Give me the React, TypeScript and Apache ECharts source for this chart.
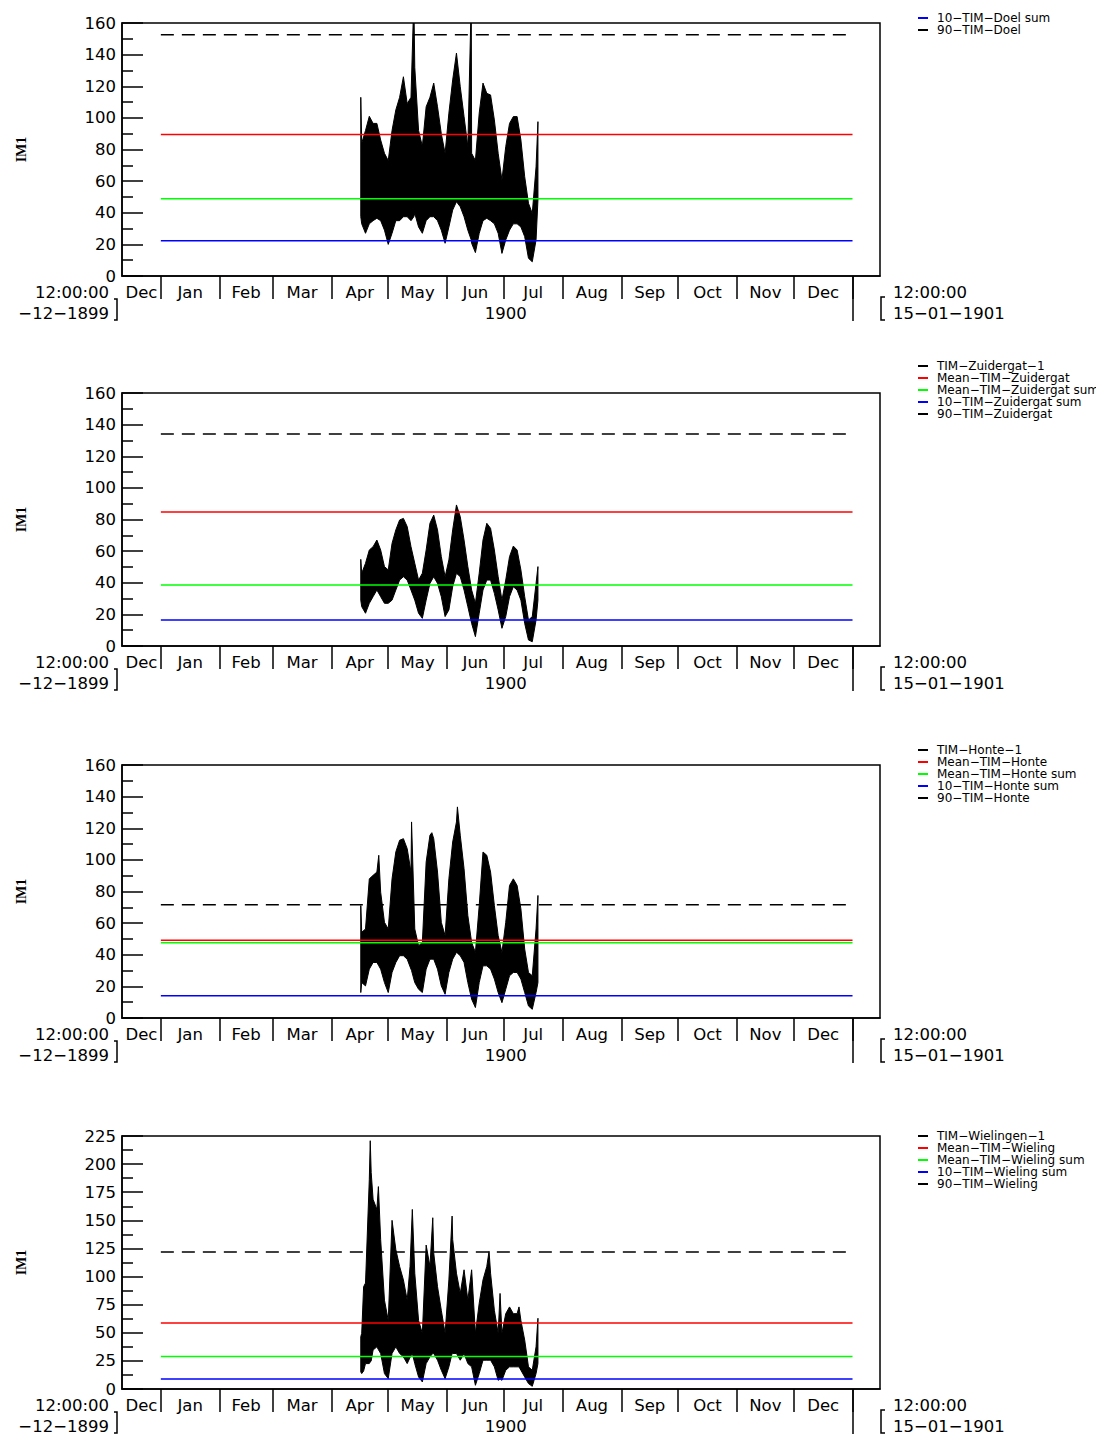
import React, { useEffect, useRef } from "react";
import * as echarts from "echarts";

// ---- x axis: days since 1900-01-01 ----
const X_MIN = -20.5;
const X_MAX = 379.5;
const MONTH_STARTS = [0, 31, 59, 90, 120, 151, 181, 212, 243, 273, 304, 334, 365];
const MONTH_LABEL_POS = [-10.25, 15.5, 45, 74.5, 105, 135.5, 166, 196.5, 227.5, 258, 288.5, 319, 349.5];
const MONTH_NAMES = ["Dec", "Jan", "Feb", "Mar", "Apr", "May", "Jun", "Jul", "Aug", "Sep", "Oct", "Nov", "Dec"];
const YEAR_LABEL_POS = [182];
const YEAR_LABEL = "1900";
const LONG_TICK = [365];
const REF_SPAN = [0, 365];
const LEFT_DATE = ["12:00:00", "-12-1899"];
const RIGHT_DATE = ["12:00:00", "15-01-1901"];

// ---- Panel 1 : Doel ----
const doelNames = ["TIM-Doel-1", "Mean-TIM-Doel", "Mean-TIM-Doel sum", "10-TIM-Doel sum", "90-TIM-Doel"];
const doelLegend = ["10-TIM-Doel sum", "90-TIM-Doel"];
const doelLevels = [89.5, 48.9, 22.3, 152.6]; // mean, mean sum, 10, 90
const doelDays = [105.5, 106, 108, 110, 112, 114, 116, 118, 120, 122, 124, 126, 128, 130, 132, 133.5, 134, 136, 138, 140, 142, 144, 146, 148, 150, 152, 154, 156, 158, 160, 162, 163.8, 164, 166, 168, 170, 172, 174, 176, 178, 180, 182, 184, 186, 188, 190, 192, 194, 196, 198, 199];
const doelLow = [37.5, 33, 27, 33, 35, 36.5, 35, 29, 20, 27, 35, 35, 37.5, 37.5, 35, 37.5, 39.6, 31, 27, 35, 37.5, 37.5, 35, 29, 20.7, 31, 41.7, 47, 43.8, 37.5, 29, 22.8, 20.7, 14.8, 27, 35, 36.5, 35, 33, 27, 14.3, 22.8, 29, 33, 33, 31, 24.9, 11.2, 9, 22.8, 48];
const doelHigh = [113, 84, 92, 101, 96.5, 96.5, 86, 77.6, 73, 92, 105, 113, 126, 109, 113, 175, 132, 92, 82, 107, 113, 122, 107, 90, 77.6, 103, 124, 141, 119.7, 100.8, 81.8, 175, 77.6, 73, 103, 122, 115.5, 114.5, 98.7, 77.6, 60.7, 81.8, 96.5, 100.8, 100.8, 86, 62.8, 46, 39.6, 69, 97.6];

// ---- Panel 2 : Zuidergat ----
const zuidNames = ["TIM-Zuidergat-1", "Mean-TIM-Zuidergat", "Mean-TIM-Zuidergat sum", "10-TIM-Zuidergat sum", "90-TIM-Zuidergat"];
const zuidLevels = [84.7, 38.5, 16.4, 134.1];
const zuidDays = [105.5, 106, 108, 110, 112, 114, 116, 118, 120, 122, 124, 126, 128, 130, 132, 134, 136, 138, 140, 142, 144, 146, 148, 150, 152, 154, 156, 158, 160, 162, 164, 166, 168, 170, 172, 174, 176, 178, 180, 182, 184, 186, 188, 190, 192, 194, 196, 198, 199];
const zuidLow = [29, 24.9, 20.7, 27, 31.2, 35.4, 31.2, 27, 27, 29, 35.4, 41.7, 43.8, 41.7, 35.4, 29, 20.7, 17.5, 29, 39.6, 43.8, 39.6, 31.2, 18.6, 22.8, 37.5, 46, 43.8, 35.4, 24.9, 14.3, 5.9, 20.7, 35.4, 41.7, 41.7, 33.3, 22.8, 11.2, 18.6, 31.2, 37.5, 35.4, 29, 14.3, 3.8, 2.7, 16.4, 29];
const zuidHigh = [54.8, 46, 52.3, 60.7, 62.8, 67, 60.7, 50.2, 48.1, 64.9, 73.4, 79.7, 80.7, 75.5, 62.8, 52.3, 41.7, 46, 60.7, 77.6, 82.8, 73.4, 56.5, 43.8, 54.4, 73.4, 89.2, 81.8, 67, 50.2, 35.4, 27, 46, 67, 77.6, 74.4, 60.7, 43.8, 29, 41.7, 56.5, 63.2, 60.7, 48.1, 31.2, 16.4, 18.6, 39.6, 50.2];

// ---- Panel 3 : Honte ----
const honteNames = ["TIM-Honte-1", "Mean-TIM-Honte", "Mean-TIM-Honte sum", "10-TIM-Honte sum", "90-TIM-Honte"];
const honteLevels = [49.1, 47.6, 14, 71.6];
const honteDays = [105.5, 106, 108, 110, 112, 114, 115, 116, 118, 120, 122, 124, 126, 128, 130, 132, 132.3, 134, 136, 138, 140, 142, 143, 144, 146, 148, 150, 152, 154, 156, 156.5, 158, 160, 162, 164, 166, 168, 170, 172, 174, 176, 178, 180, 182, 184, 186, 188, 190, 192, 194, 196, 198, 199];
const honteLow = [16.1, 22.4, 20.3, 30.9, 35.1, 35.1, 33, 30.9, 22.4, 16.1, 28.8, 35.1, 39.4, 39.4, 37.2, 30.9, 30, 22.4, 18.2, 16.1, 30.9, 37.2, 37.2, 37.2, 30.9, 20.3, 15, 28.8, 37.2, 41.5, 41, 39.4, 35.1, 22.4, 11.9, 6.6, 22.4, 33, 33, 30.9, 24.6, 16.1, 9.7, 18.2, 26.7, 28.8, 28.8, 24.6, 16.1, 7.6, 5.5, 16.1, 22.4];
const honteHigh = [71.1, 54.2, 56.3, 88, 90.2, 92.3, 102.9, 79.6, 60.5, 56.3, 88, 105, 112.4, 113.4, 107.1, 92.3, 124, 56.3, 45.7, 47.8, 98.6, 115.6, 117.2, 113.4, 92.3, 60.5, 52.1, 88, 111.3, 124, 133.5, 115.6, 94.4, 64.8, 47.8, 41.5, 71.1, 105, 102.9, 92.3, 71.1, 52.1, 41.5, 60.5, 83.8, 88, 83.8, 69, 43.6, 28.8, 26.7, 56.3, 77.5];

// ---- Panel 4 : Wielingen ----
const wielNames = ["TIM-Wielingen-1", "Mean-TIM-Wieling", "Mean-TIM-Wieling sum", "10-TIM-Wieling sum", "90-TIM-Wieling"];
const wielLevels = [58.6, 28.9, 8.9, 121.9];
const wielDays = [105.5, 106, 107, 108, 110, 110.5, 111, 112, 114, 114.8, 116, 118, 120, 122, 124, 126, 128, 130, 131.5, 132.7, 134, 136, 138, 140, 142, 143.5, 144, 146, 148, 150, 152, 153.7, 154, 156, 158, 160, 162, 164, 166, 168, 170, 172, 173.2, 174, 176, 178, 179, 180, 182, 184, 186, 188, 189, 190, 192, 194, 196, 198, 199];
const wielLow = [15.2, 13.7, 16, 22.6, 22.6, 24, 25, 34.6, 37.5, 35, 31.6, 13.7, 9.2, 31.6, 37.5, 31.6, 28.6, 22.6, 28, 31.6, 22.6, 10.7, 6.3, 22.6, 28.6, 31.6, 31.6, 25.6, 16.7, 9.2, 19.7, 31.6, 31.6, 31.6, 25.6, 31.6, 22.6, 19.7, 3.3, 13.7, 25.6, 25.6, 25.6, 25.6, 19.7, 7.7, 9, 7.7, 16.7, 19.7, 19.7, 19.7, 19.7, 16.7, 10.7, 4.8, 2.4, 13.7, 22.6];
const wielHigh = [46.5, 49.5, 91, 94.2, 186.5, 220.8, 192.5, 168.7, 159.7, 180, 132.9, 79, 61, 150, 124, 109, 97, 79, 109, 159.7, 103, 61, 49.5, 128, 109, 152.3, 121, 91, 70, 49.5, 97, 153.8, 133, 103, 85, 106, 79, 106, 49.5, 76.3, 97, 109, 122.5, 103, 70, 49.5, 85, 49.5, 67, 73, 67, 67, 73, 61, 43.5, 19.7, 16.7, 37.5, 62.9];

// ---- layout ----
const W = 1096;
const H = 1436;
const GRID_LEFT = 122;
const GRID_W = 758;
const GRID_H = 253;
const PANEL_TOPS = [23, 393, 765, 1136];
const LEGEND_TOPS = [12, 360, 744, 1130];
const LEVEL_COLORS = ["#ff0000", "#00ff00", "#0000ff", "#000000"];
const FONT = "DejaVu Sans";
const LABEL_SIZE = 16.5;

const panels = [
  { names: doelNames, legend: doelLegend, levels: doelLevels, days: doelDays, low: doelLow, high: doelHigh, yMax: 160, yStep: 20 },
  { names: zuidNames, legend: zuidNames, levels: zuidLevels, days: zuidDays, low: zuidLow, high: zuidHigh, yMax: 160, yStep: 20 },
  { names: honteNames, legend: honteNames, levels: honteLevels, days: honteDays, low: honteLow, high: honteHigh, yMax: 160, yStep: 20 },
  { names: wielNames, legend: wielNames, levels: wielLevels, days: wielDays, low: wielLow, high: wielHigh, yMax: 225, yStep: 25 },
];

const dash = (s: string) => s.replace(/-/g, "\u2212");

function buildOption() {
  const grid: any[] = [];
  const xAxis: any[] = [];
  const yAxis: any[] = [];
  const series: any[] = [];
  const legend: any[] = [];
  const graphic: any[] = [];
  const black = { color: "#000", width: 1.5 };

  panels.forEach((p, i) => {
    const top = PANEL_TOPS[i];
    const bottom = top + GRID_H;
    grid.push({
      left: GRID_LEFT, top, width: GRID_W, height: GRID_H, z: 20,
      show: true, borderColor: "#000", borderWidth: 1.5, backgroundColor: "transparent",
    });
    // main month axis
    xAxis.push({
      type: "value", gridIndex: i, min: X_MIN, max: X_MAX, position: "bottom", z: 20,
      axisLine: { show: true, onZero: false, lineStyle: black },
      axisTick: { show: true, inside: false, length: 23, customValues: MONTH_STARTS, lineStyle: black },
      axisLabel: {
        show: true, customValues: MONTH_LABEL_POS, margin: 8,
        formatter: (v: number) => MONTH_NAMES[MONTH_LABEL_POS.indexOf(v)] ?? "",
        color: "#000", fontFamily: FONT, fontSize: LABEL_SIZE,
      },
      splitLine: { show: false },
    });
    // year axis (long tick + year label)
    xAxis.push({
      type: "value", gridIndex: i, min: X_MIN, max: X_MAX, position: "bottom", offset: 0,
      axisLine: { show: false },
      axisTick: { show: true, inside: false, length: 45, customValues: LONG_TICK, lineStyle: black },
      axisLabel: {
        show: true, customValues: YEAR_LABEL_POS, margin: 29,
        formatter: () => YEAR_LABEL,
        color: "#000", fontFamily: FONT, fontSize: LABEL_SIZE,
      },
      splitLine: { show: false },
    });
    yAxis.push({
      type: "value", gridIndex: i, min: 0, max: p.yMax, interval: p.yStep, z: 20,
      name: "IM1", nameLocation: "middle", nameRotate: 90, nameGap: 94,
      nameTextStyle: { fontFamily: "Liberation Serif", fontWeight: "bold", fontSize: 14, color: "#000" },
      axisLine: { show: true, onZero: false, lineStyle: black },
      axisTick: { show: true, inside: true, length: 21, lineStyle: black },
      minorTick: { show: true, splitNumber: 2, length: 11, lineStyle: black },
      axisLabel: { color: "#000", fontFamily: FONT, fontSize: LABEL_SIZE, margin: 6 },
      splitLine: { show: false },
      minorSplitLine: { show: false },
    });

    const xi = i * 2;
    // data envelope between the lower and upper readings, one polygon through the axes' scales
    series.push({
      name: p.names[0], type: "custom", coordinateSystem: "cartesian2d",
      xAxisIndex: xi, yAxisIndex: i, z: 2, clip: true,
      itemStyle: { color: "#000" },
      encode: { x: 0, y: [1, 2] },
      data: p.days.map((d, k) => [d, p.low[k], p.high[k]]),
      renderItem: (params: any, api: any) => {
        if (params.dataIndex !== 0) return null;
        const up = p.days.map((d, k) => api.coord([d, p.high[k]]));
        const dn = p.days.map((d, k) => api.coord([d, p.low[k]])).reverse();
        return {
          type: "polygon",
          shape: { points: up.concat(dn) },
          style: { fill: "#000", stroke: "#000", lineWidth: 1 },
        };
      },
    });
    p.levels.forEach((lv, j) => {
      series.push({
        name: p.names[j + 1], type: "line", xAxisIndex: xi, yAxisIndex: i,
        symbol: "none", z: 5,
        lineStyle: { color: LEVEL_COLORS[j], width: 1.5, type: j === 3 ? [13, 8] : "solid" },
        itemStyle: { color: LEVEL_COLORS[j] },
        data: REF_SPAN.map((d) => [d, lv]),
      });
    });

    legend.push({
      data: p.legend, orient: "vertical", left: 918, top: LEGEND_TOPS[i],
      padding: 0, itemGap: 0, itemWidth: 10, itemHeight: 2, icon: "rect",
      selectedMode: false, formatter: (n: string) => dash(n),
      textStyle: { color: "#000", fontFamily: FONT, fontSize: 12, lineHeight: 12, padding: [0, 0, 0, 4] },
    });

    // end-of-axis date labels and brackets
    const tStyle = { fill: "#000", fontFamily: FONT, fontSize: LABEL_SIZE };
    graphic.push(
      { type: "text", x: GRID_LEFT - 13, y: bottom + 16, style: { ...tStyle, text: dash(LEFT_DATE[0]), align: "right", verticalAlign: "middle" } },
      { type: "text", x: GRID_LEFT - 13, y: bottom + 37, style: { ...tStyle, text: dash(LEFT_DATE[1]), align: "right", verticalAlign: "middle" } },
      { type: "text", x: GRID_LEFT + GRID_W + 13, y: bottom + 16, style: { ...tStyle, text: dash(RIGHT_DATE[0]), align: "left", verticalAlign: "middle" } },
      { type: "text", x: GRID_LEFT + GRID_W + 13, y: bottom + 37, style: { ...tStyle, text: dash(RIGHT_DATE[1]), align: "left", verticalAlign: "middle" } },
      { type: "polyline", shape: { points: [[GRID_LEFT - 8, bottom + 23], [GRID_LEFT - 5, bottom + 23], [GRID_LEFT - 5, bottom + 44], [GRID_LEFT - 8, bottom + 44]] }, style: { stroke: "#000", lineWidth: 1.5, fill: null } },
      { type: "polyline", shape: { points: [[GRID_LEFT + GRID_W + 5, bottom + 21], [GRID_LEFT + GRID_W + 1, bottom + 21], [GRID_LEFT + GRID_W + 1, bottom + 44], [GRID_LEFT + GRID_W + 5, bottom + 44]] }, style: { stroke: "#000", lineWidth: 1.5, fill: null } }
    );
  });

  return {
    animation: false,
    backgroundColor: "#fff",
    grid, xAxis, yAxis, series, legend, graphic,
  };
}

export default function App() {
  const ref = useRef<HTMLDivElement>(null);
  useEffect(() => {
    if (!ref.current) return;
    const chart = echarts.init(ref.current, null, { renderer: "svg" });
    chart.setOption(buildOption() as any);
    return () => chart.dispose();
  }, []);
  return (
    <div
      ref={ref}
      style={{ position: "fixed", left: 0, top: 0, width: W, height: H, background: "#fff" }}
    />
  );
}
